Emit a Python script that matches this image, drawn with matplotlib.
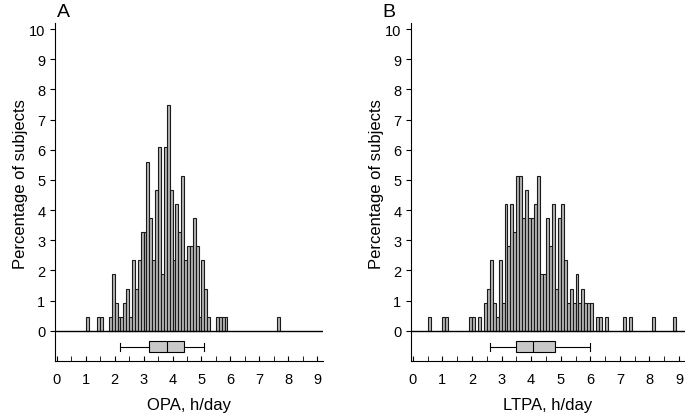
import matplotlib.pyplot as plt
import numpy as np

plt.rcParams['font.family'] = ['Liberation Sans', 'DejaVu Sans']

n_subjects = 214

# panel A - occupational physical activity, 0.1 h/day bins (bin start) and number of subjects
opa_bins = [1.0, 1.4, 1.5, 1.8, 1.9, 2.0, 2.1, 2.2, 2.3, 2.4, 2.5, 2.6, 2.7, 2.8, 2.9,
            3.0, 3.1, 3.2, 3.3, 3.4, 3.5, 3.6, 3.7, 3.8, 3.9, 4.0, 4.1, 4.2, 4.3, 4.4,
            4.5, 4.6, 4.7, 4.8, 4.9, 5.0, 5.1, 5.2, 5.5, 5.6, 5.7, 5.8, 7.6]
opa_counts = [1, 1, 1, 1, 4, 2, 1, 1, 2, 3, 1, 5, 3, 5, 7,
              7, 12, 8, 5, 10, 13, 4, 13, 16, 10, 5, 9, 7, 11, 5,
              6, 6, 8, 6, 1, 5, 3, 1, 1, 1, 1, 1, 1]
# whislo, q1, median, q3, whishi
opa_box = [2.2, 3.2, 3.8, 4.4, 5.1]

# panel B - leisure time physical activity
ltpa_bins = [0.5, 1.0, 1.1, 1.9, 2.0, 2.2, 2.4, 2.5, 2.6, 2.7, 2.8, 2.9, 3.0,
             3.1, 3.2, 3.3, 3.4, 3.5, 3.6, 3.7, 3.8, 3.9, 4.0,
             4.1, 4.2, 4.3, 4.4, 4.5, 4.6, 4.7, 4.8, 4.9, 5.0,
             5.1, 5.2, 5.3, 5.4, 5.5, 5.6, 5.7, 5.8, 5.9, 6.0,
             6.2, 6.3, 6.5, 7.1, 7.3, 8.1, 8.8]
ltpa_counts = [1, 1, 1, 1, 1, 1, 2, 3, 5, 2, 1, 5, 2,
               9, 6, 9, 7, 11, 11, 8, 10, 8, 8,
               9, 11, 4, 4, 8, 6, 9, 3, 8, 9,
               5, 2, 3, 2, 4, 2, 3, 2, 2, 2,
               1, 1, 1, 1, 1, 1, 1]
ltpa_box = [2.6, 3.5, 4.05, 4.8, 6.0]

fig = plt.figure(figsize=(6.85, 4.14), dpi=100)
W, H = 685, 414
axA = fig.add_axes([55 / W, 1 - 362 / H, 268 / W, 338 / H])
axB = fig.add_axes([411 / W, 1 - 362 / H, 274 / W, 338 / H])


def panel(ax, bins, counts, box, xlabel):
    pct = np.array(counts) / n_subjects * 100
    ax.bar(bins, pct, width=0.1, align='edge', color='#b4b4b4',
           edgecolor='#1a1a1a', linewidth=0.8, zorder=2)
    ax.axhline(0, color='black', lw=1, zorder=3)
    stats = [dict(whislo=box[0], q1=box[1], med=box[2], q3=box[3], whishi=box[4], fliers=[])]
    ax.bxp(stats, positions=[-0.53], widths=0.36, orientation='horizontal',
           patch_artist=True, showfliers=False, capwidths=0.28,
           boxprops=dict(facecolor='#c8c8c8', edgecolor='black', linewidth=0.8),
           medianprops=dict(color='black', linewidth=0.8),
           whiskerprops=dict(color='black', linewidth=0.8),
           capprops=dict(color='black', linewidth=0.8))
    ax.set_xlim(-0.06, 9.2)
    ax.set_ylim(-1, 10.2)
    ax.set_xticks(range(0, 10))
    ax.set_xticklabels([str(i) for i in range(0, 10)])
    ax.set_xticks(np.arange(0.5, 9, 1), minor=True)
    ax.set_yticks(range(0, 11))
    ax.set_yticklabels([str(i) for i in range(0, 11)])
    ax.tick_params(axis='x', which='both', direction='in', length=3.5, labelsize=10.5, pad=8)
    ax.tick_params(axis='y', direction='out', length=3.5, labelsize=10.5)
    ax.spines['top'].set_visible(False)
    ax.spines['right'].set_visible(False)
    ax.set_xlabel(xlabel, fontsize=12, labelpad=8)
    ax.set_ylabel('Percentage of subjects', fontsize=12, labelpad=0.5)
    ax.yaxis.label.set_y(0.525)


panel(axA, opa_bins, opa_counts, opa_box, 'OPA, h/day')
panel(axB, ltpa_bins, ltpa_counts, ltpa_box, 'LTPA, h/day')

fig.text(0.083, 0.958, 'A', fontsize=14)
fig.text(0.558, 0.958, 'B', fontsize=14)

fig.savefig('out.png', dpi=100)
